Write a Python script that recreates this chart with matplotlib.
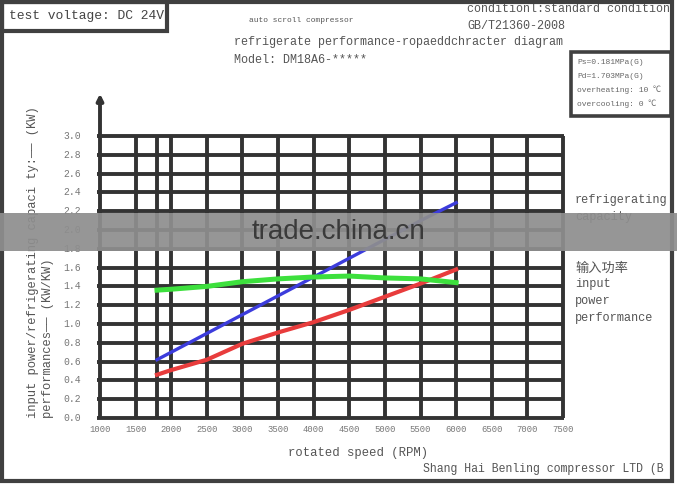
import matplotlib
matplotlib.use("Agg")
import matplotlib.pyplot as plt
from matplotlib.patches import Rectangle

# ---- data ----
speed = [1800, 2000, 2500, 3000, 3500, 4000, 4500, 5000, 5500, 6000]
capacity = [0.62, 0.70, 0.90, 1.10, 1.30, 1.50, 1.70, 1.90, 2.10, 2.29]
power = [0.46, 0.51, 0.62, 0.79, 0.91, 1.02, 1.15, 1.29, 1.43, 1.58]
cop = [1.36, 1.37, 1.40, 1.45, 1.48, 1.50, 1.51, 1.49, 1.48, 1.44]

x_ticks = [1000, 1500, 2000, 2500, 3000, 3500, 4000, 4500, 5000, 5500, 6000, 6500, 7000, 7500]
x_grid = [1500, 1800, 2000, 2500, 3000, 3500, 4000, 4500, 5000, 5500, 6000, 6500, 7000, 7500]
y_ticks = [0.0, 0.2, 0.4, 0.6, 0.8, 1.0, 1.2, 1.4, 1.6, 1.8, 2.0, 2.2, 2.4, 2.6, 2.8, 3.0]

W, H = 677, 487
fig = plt.figure(figsize=(W / 100, H / 100), dpi=100)
fig.patch.set_facecolor("white")

MONO = ["Liberation Mono", "Noto Sans CJK SC", "DejaVu Sans"]
CJK = ["Noto Sans CJK SC", "DejaVu Sans"]
GRID = "#333333"
TXT = "#555555"


def fx(x):
    return x / W


def fy(y):
    return 1 - y / H


# axes: x 1000..7500 -> px 100..563 ; y 0..3 -> px 418..136
ax = fig.add_axes([fx(100), fy(418), fx(563) - fx(100), fy(136) - fy(418)])
ax.set_xlim(1000, 7500)
ax.set_ylim(0, 3.0)
ax.axis("off")

lw_grid = 2.8
for v in x_grid:
    ax.plot([v, v], [0, 3.0], color=GRID, lw=lw_grid, solid_capstyle="butt", zorder=1, clip_on=False)
for v in y_ticks:
    ax.plot([955, 7500 + 20], [v, v], color=GRID, lw=lw_grid, solid_capstyle="butt", zorder=1, clip_on=False)
# y axis with arrow
ax.annotate("", xy=(1000, 3.48), xytext=(1000, -0.01),
            arrowprops=dict(arrowstyle="-|>", lw=lw_grid, color=GRID, mutation_scale=9),
            annotation_clip=False, zorder=2)

# data lines
ax.plot(speed, capacity, color="#3c3cdc", lw=2.4, zorder=3, clip_on=False)
ax.plot(speed, power, color="#e83c3c", lw=3.0, zorder=3, clip_on=False)
ax.plot(speed, cop, color="#3de03d", lw=3.6, zorder=3, clip_on=False)

# tick labels
for v in x_ticks:
    ax.text(v, -0.12, f"{v}", ha="center", va="center", fontsize=6.4,
            family=MONO, color="#777777")
for v in y_ticks:
    fig.text(fx(81), ax.transData.transform((1000, v))[1] / H, f"{v:.1f}", ha="right",
             va="center", fontsize=7.0, family=MONO, color="#777777")

# axis labels
fig.text(fx(33), fy(418), "input power/refrigerating capaci ty:—— (KW)", rotation=90,
         ha="center", va="bottom", fontsize=8.7, family=MONO, color=TXT)
fig.text(fx(48), fy(418), "performances—— (KW/KW)", rotation=90,
         ha="center", va="bottom", fontsize=8.7, family=MONO, color=TXT)
fig.text(fx(358), fy(453), "rotated speed (RPM)", ha="center", va="center",
         fontsize=8.8, family=MONO, color=TXT)

# header texts
fig.text(fx(9), fy(16), "test voltage: DC 24V", ha="left", va="center",
         fontsize=9.4, family=MONO, color="#444444")
fig.text(fx(249), fy(20), "auto scroll compressor", ha="left", va="center",
         fontsize=5.7, family=MONO, color=TXT)
fig.text(fx(467), fy(9), "conditionl:standard condition", ha="left", va="center",
         fontsize=8.4, family=MONO, color=TXT)
fig.text(fx(467), fy(26), "GB/T21360-2008", ha="left", va="center",
         fontsize=8.5, family=MONO, color=TXT)
fig.text(fx(234), fy(42), "refrigerate performance-ropaeddchracter diagram", ha="left",
         va="center", fontsize=8.5, family=MONO, color=TXT)
fig.text(fx(234), fy(60), "Model: DM18A6-*****", ha="left", va="center",
         fontsize=8.5, family=MONO, color=TXT)

# condition box texts
box_lines = ["Ps=0.181MPa(G)", "Pd=1.703MPa(G)", "overheating: 10 ℃", "overcooling: 0 ℃"]
for i, s in enumerate(box_lines):
    fig.text(fx(577), fy(62 + 14 * i), s, ha="left", va="center",
             fontsize=5.8, family=MONO, color="#666666")

# right legend texts
fig.text(fx(575), fy(200), "refrigerating", ha="left", va="center", fontsize=8.6, family=MONO, color=TXT)
fig.text(fx(575), fy(217), "capacity", ha="left", va="center", fontsize=8.6, family=MONO, color=TXT)
fig.text(fx(575), fy(268), "输入功率", ha="left", va="center", fontsize=9.5, family=CJK, color=TXT)
fig.text(fx(575), fy(284), "input", ha="left", va="center", fontsize=8.6, family=MONO, color=TXT)
fig.text(fx(575), fy(301), "power", ha="left", va="center", fontsize=8.6, family=MONO, color=TXT)
fig.text(fx(575), fy(318), "performance", ha="left", va="center", fontsize=8.6, family=MONO, color=TXT)

# footer
fig.text(fx(423), fy(469), "Shang Hai Benling compressor LTD (B", ha="left", va="center",
         fontsize=8.3, family=MONO, color=TXT)

# frames
FR = "#404040"
fig.patches.append(Rectangle((fx(2), fy(481)), fx(670), (481 - 2) / H, transform=fig.transFigure,
                             fill=False, ec=FR, lw=3.0, zorder=5))
fig.patches.append(Rectangle((fx(2), fy(31)), fx(165), 29 / H, transform=fig.transFigure,
                             fill=False, ec=FR, lw=3.0, zorder=5))
fig.patches.append(Rectangle((fx(571), fy(116)), fx(100), 64 / H, transform=fig.transFigure,
                             fill=False, ec=FR, lw=2.6, zorder=5))

# watermark band
fig.patches.append(Rectangle((0, fy(251)), 1, 38 / H, transform=fig.transFigure,
                             fc="#8e8e8e", ec="none", alpha=0.93, zorder=10))
fig.text(fx(338), fy(232), "trade.china.cn", ha="center", va="center", fontsize=20,
         family=["Liberation Sans", "DejaVu Sans"], color="#3a3a3a", zorder=11)

fig.savefig("out.png", dpi=100)
